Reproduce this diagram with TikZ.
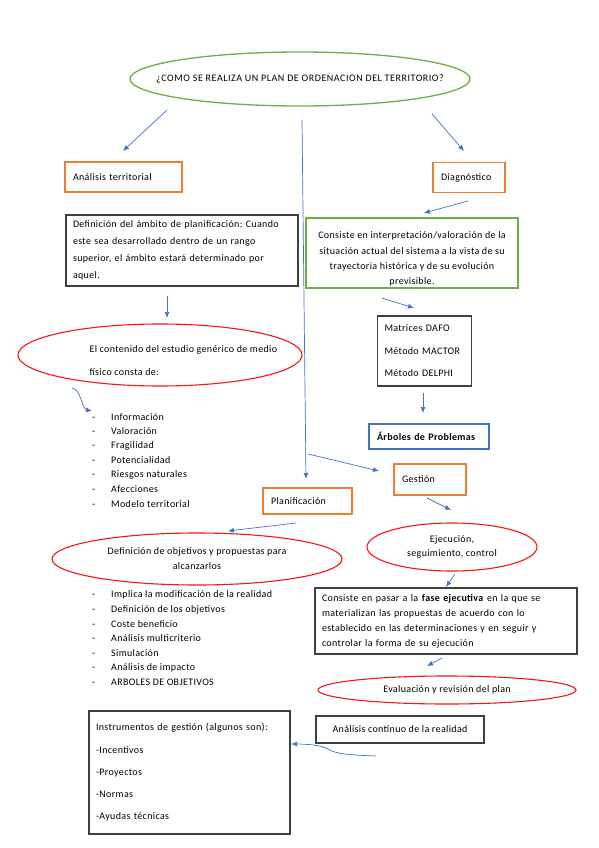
\documentclass[tikz,border=0pt]{standalone}
\usepackage{fontspec}
\setmainfont{Carlito}[LetterSpace=3.5]
\frenchspacing
\usetikzlibrary{shapes.geometric, arrows.meta, positioning}
\definecolor{linkblue}{RGB}{68,114,196}
\definecolor{boxorange}{RGB}{237,125,49}
\definecolor{boxgreen}{RGB}{112,173,71}
\definecolor{ovalred}{RGB}{250,20,20}
\definecolor{boxgray}{RGB}{64,64,64}

\begin{document}
\begin{tikzpicture}[x=1pt, y=-1pt, font=\fontsize{10pt}{15pt}\selectfont,
    link/.style={draw=linkblue, line width=0.7pt, -{Latex[length=6pt, width=5pt]}},
    orangebox/.style={rectangle, draw=boxorange, line width=1.4pt, inner xsep=8pt, minimum height=30pt, align=left},
    blackbox/.style={rectangle, draw=boxgray, line width=1.1pt, inner xsep=7pt, align=left},
    redoval/.style={ellipse, draw=ovalred, line width=1.1pt, inner sep=0pt, align=center}]

  \useasboundingbox[fill=white] (0,0) rectangle (599,848);

  % title
  \node[ellipse, draw=boxgreen, line width=1.3pt, minimum width=340pt, minimum height=54pt] (pregunta) at (300,79) {};
  \node[font=\fontsize{10pt}{12pt}\selectfont\addfontfeature{LetterSpace=5.5}] (preguntatxt) at (pregunta)
    {¿COMO SE REALIZA UN PLAN DE ORDENACION DEL TERRITORIO?};

  % left column
  \node[orangebox, text width=101pt] (analisis) at (123.5,177) {Análisis territorial};
  \node[blackbox, text width=218pt, minimum height=71pt, font=\fontsize{10pt}{17pt}\selectfont] (ambito) at (182,250.5)
    {Definición del ámbito de planificación: Cuando\\este sea desarrollado dentro de un rango\\superior, el ámbito estará determinado por\\aquel.};
  \node[redoval, minimum width=284pt, minimum height=62pt] (contenido) at (160,355) {};
  \node[anchor=west, align=left, font=\fontsize{10pt}{23pt}\selectfont] (contenidotxt) at (86,360.5)
    {El contenido del estudio genérico de medio\\físico consta de:};
  \foreach \t [count=\i] in {Información, Valoración, Fragilidad, Potencialidad,
      Riesgos naturales, Afecciones, Modelo territorial}{
    \node[anchor=west, inner sep=0pt] (medio\i) at (92,402.5+14.5*\i) {\makebox[19pt][l]{-}\t};
  }

  % right column
  \node[orangebox, text width=56pt] (diagnostico) at (469,177.5) {Diagnóstico};
  \node[rectangle, draw=boxgreen, line width=1.3pt, minimum width=212pt, minimum height=70pt] (situacion) at (412,253) {};
  \node[align=center, font=\fontsize{10pt}{15.3pt}\selectfont] (situaciontxt) at (412,259)
    {Consiste en interpretación/valoración de la\\situación actual del sistema a la vista de su\\trayectoria histórica y de su evolución\\previsible.};
  \node[blackbox, text width=80pt, minimum height=70pt, font=\fontsize{10pt}{22.5pt}\selectfont] (metodos) at (424.5,351)
    {Matrices DAFO\\Método MACTOR\\Método DELPHI};
  \node[rectangle, draw=linkblue, line width=1.3pt, text width=104pt, inner xsep=8pt, minimum height=25pt, align=left,
        font=\fontsize{10pt}{12pt}\selectfont\bfseries] (arboles) at (429,436.5) {Árboles de Problemas};
  \node[orangebox, text width=56pt, minimum height=31pt] (gestion) at (430,479.5) {Gestión};
  \node[redoval, minimum width=170pt, minimum height=48pt, font=\fontsize{10pt}{14pt}\selectfont] (ejecucion) at (452,547)
    {Ejecución,\\seguimiento, control};
  \node[blackbox, text width=248pt, minimum height=66pt] (fase) at (446,621)
    {Consiste en pasar a la \textbf{fase ejecutiva} en la que se\\materializan las propuestas de acuerdo con lo\\establecido en las determinaciones y en seguir y\\controlar la forma de su ejecución};
  \node[redoval, minimum width=258pt, minimum height=28pt] (evaluacion) at (447,690) {Evaluación y revisión del plan};
  \node[blackbox, minimum width=168pt, minimum height=27pt, align=center] (continuo) at (400,729.5) {Análisis contínuo de la realidad};

  % middle and bottom
  \node[orangebox, text width=73pt, minimum height=26pt] (planificacion) at (307.5,501) {Planificación};
  \node[redoval, minimum width=290pt, minimum height=52pt] (objetivos) at (197,559)
    {Definición de objetivos y propuestas para\\alcanzarlos};
  \foreach \t [count=\i] in {Implica la modificación de la realidad, Definición de los objetivos, Coste beneficio,
      Análisis multicriterio, Simulación, Análisis de impacto, ARBOLES DE OBJETIVOS}{
    \node[anchor=west, inner sep=0pt] (plan\i) at (92,580.5+14.5*\i) {\makebox[19pt][l]{-}\t};
  }
  \node[blackbox, text width=187pt, minimum height=123pt, font=\fontsize{10pt}{22.3pt}\selectfont] (instrumentos) at (189.5,772.5)
    {Instrumentos de gestión (algunos son):\\-Incentivos\\-Proyectos\\-Normas\\-Ayudas técnicas};

  % arrow ends
  \coordinate (pregunta-l) at (167,110);  \coordinate (analisis-t) at (123,151);
  \coordinate (pregunta-r) at (432,114);  \coordinate (diagnostico-t) at (464,151);
  \coordinate (pregunta-m) at (302,120);  \coordinate (planificacion-t) at (306,479);
  \coordinate (ambito-b) at (167,296);    \coordinate (contenido-t) at (167,318);
  \coordinate (diagnostico-b) at (468,201); \coordinate (situacion-t) at (424,213);
  \coordinate (situacion-b) at (382,298); \coordinate (metodos-t) at (414,308);
  \coordinate (metodos-b) at (423,393);   \coordinate (arboles-t) at (423,413);
  \coordinate (linea-m) at (308,454);     \coordinate (gestion-l) at (379,471);
  \coordinate (gestion-b) at (427,498);   \coordinate (ejecucion-t) at (451,510);
  \coordinate (planificacion-b) at (296,523); \coordinate (objetivos-t) at (228,531);
  \coordinate (ejecucion-b) at (455,574); \coordinate (fase-t) at (446,587);
  \coordinate (fase-b) at (442,658);      \coordinate (evaluacion-t) at (427,666);
  \coordinate (continuo-b) at (376,756);  \coordinate (instrumentos-r) at (291,744);
  \coordinate (contenido-b) at (72,388);  \coordinate (medio-t) at (92,411);

  % connectors
  \foreach \a/\b in {pregunta-l/analisis-t, pregunta-r/diagnostico-t, pregunta-m/planificacion-t,
      ambito-b/contenido-t, diagnostico-b/situacion-t, situacion-b/metodos-t, metodos-b/arboles-t,
      linea-m/gestion-l, gestion-b/ejecucion-t, planificacion-b/objetivos-t, ejecucion-b/fase-t,
      fase-b/evaluacion-t}
    \draw[link] (\a) -- (\b);
  \draw[link] (contenido-b) .. controls (81,389) and (82,409) .. (medio-t);
  \draw[link] (continuo-b) .. controls (350,755) and (335,754) .. (328,749)
    .. controls (322,745) and (305,744) .. (instrumentos-r);
\end{tikzpicture}
\end{document}
